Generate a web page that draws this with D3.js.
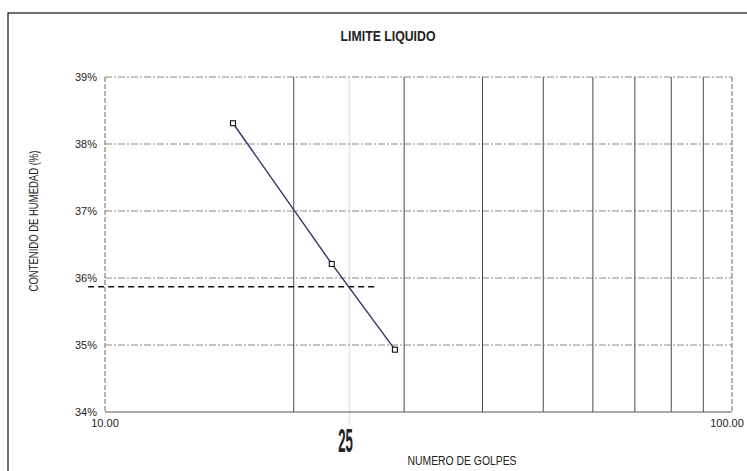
<!DOCTYPE html>
<html>
<head>
<meta charset="utf-8">
<script src="https://cdn.jsdelivr.net/npm/d3@7"></script>
<style>
  html, body { margin: 0; padding: 0; background: #fff; }
  svg { display: block; }
  text { font-family: "Liberation Sans", Arial, sans-serif; }
</style>
</head>
<body>
<svg id="chart" width="747" height="471"></svg>
<script>
// ---- data ----
const golpes = [16, 23, 29];                 // numero de golpes
const humedad = [0.3831, 0.3621, 0.3493];    // contenido de humedad
const yTicks = [0.34, 0.35, 0.36, 0.37, 0.38, 0.39];
const xGrid = [10, 20, 30, 40, 50, 60, 70, 80, 90, 100];
const xTickLabels = [10, 100];
const llValue = 0.3587;                      // dashed reference level
const llRange = [9.4, 27.2];                 // extent of dashed reference
const markerGolpes = 25;

const svg = d3.select("#chart");
const m = { left: 105, right: 732, top: 77, bottom: 412 };

const x = d3.scaleLog().domain([10, 100]).range([m.left, m.right]);
const y = d3.scaleLinear().domain([0.34, 0.39]).range([m.bottom, m.top]);

// condensed text helper: horizontal squeeze around anchor point
function narrowText(px, py, sx, sy, rot) {
  return `translate(${px},${py})` + (rot ? ` rotate(${rot})` : "") + ` scale(${sx},${sy})`;
}

// outer frame
svg.append("rect").attr("x", 8).attr("y", 13).attr("width", 746).attr("height", 470)
  .attr("fill", "none").attr("stroke", "#222").attr("stroke-width", 1.3);

// faint annotation vertical near 25
svg.append("line")
  .attr("x1", x(markerGolpes) - 5).attr("x2", x(markerGolpes) - 5)
  .attr("y1", m.top).attr("y2", m.bottom + 12)
  .attr("stroke", "#e4e4e4").attr("stroke-width", 1.5);

// horizontal gridlines
svg.append("g").selectAll("line").data(yTicks).join("line")
  .attr("x1", m.left).attr("x2", m.right)
  .attr("y1", d => y(d)).attr("y2", d => y(d))
  .attr("stroke", d => d === 0.34 ? "#555" : "#8a8a8a")
  .attr("stroke-width", 1)
  .attr("stroke-dasharray", d => d === 0.34 ? null : "7,2,2,2");

// vertical gridlines
svg.append("g").selectAll("line").data(xGrid).join("line")
  .attr("x1", d => x(d)).attr("x2", d => x(d))
  .attr("y1", m.top).attr("y2", m.bottom)
  .attr("stroke", d => (d === 10 || d === 100) ? "#666" : "#4a4a4a")
  .attr("stroke-width", 1)
  .attr("stroke-dasharray", d => (d === 10 || d === 100) ? "5,2" : null);

// y tick labels
svg.append("g").selectAll("text").data(yTicks).join("text")
  .attr("x", 97).attr("y", d => y(d) + 4)
  .attr("text-anchor", "end").attr("font-size", 11).attr("fill", "#222")
  .text(d => d3.format(".0%")(d));

// x tick labels
svg.append("g").selectAll("text").data(xTickLabels).join("text")
  .attr("x", d => x(d) - (d === 100 ? 5 : 0)).attr("y", 427)
  .attr("text-anchor", "middle").attr("font-size", 11).attr("fill", "#222")
  .text(d => d3.format(".2f")(d));

// dashed reference
svg.append("line")
  .attr("x1", x(llRange[0])).attr("x2", x(llRange[1]))
  .attr("y1", y(llValue)).attr("y2", y(llValue))
  .attr("stroke", "#111").attr("stroke-width", 1.4)
  .attr("stroke-dasharray", "6,4");

// series line
const pts = golpes.map((g, i) => [g, humedad[i]]);
svg.append("path").datum(pts)
  .attr("d", d3.line().x(d => x(d[0])).y(d => y(d[1])))
  .attr("fill", "none").attr("stroke", "#2a3566").attr("stroke-width", 1.4);

// markers
svg.append("g").selectAll("rect").data(pts).join("rect")
  .attr("x", d => x(d[0]) - 2.5).attr("y", d => y(d[1]) - 2.5)
  .attr("width", 5).attr("height", 5)
  .attr("fill", "#fff").attr("stroke", "#111").attr("stroke-width", 1.1);

// title
svg.append("text")
  .attr("transform", narrowText(388, 41, 0.82, 1))
  .attr("text-anchor", "middle")
  .attr("font-size", 15).attr("font-weight", "bold").attr("fill", "#222")
  .text("LIMITE LIQUIDO");

// y axis title
svg.append("text")
  .attr("transform", narrowText(38, 221, 0.76, 1, -90))
  .attr("text-anchor", "middle").attr("font-size", 12.5).attr("fill", "#222")
  .text("CONTENIDO DE HUMEDAD (%)");

// x axis title
svg.append("text")
  .attr("transform", narrowText(462, 465, 0.77, 1))
  .attr("text-anchor", "middle")
  .attr("font-size", 13.5).attr("fill", "#222")
  .text("NUMERO DE GOLPES");

// handwritten-like 25 annotation
svg.append("text")
  .attr("transform", narrowText(x(markerGolpes) - 9, 452, 0.4, 1))
  .attr("text-anchor", "middle").attr("font-size", 33).attr("font-weight", "bold")
  .attr("fill", "#222")
  .text(markerGolpes);
</script>
</body>
</html>
